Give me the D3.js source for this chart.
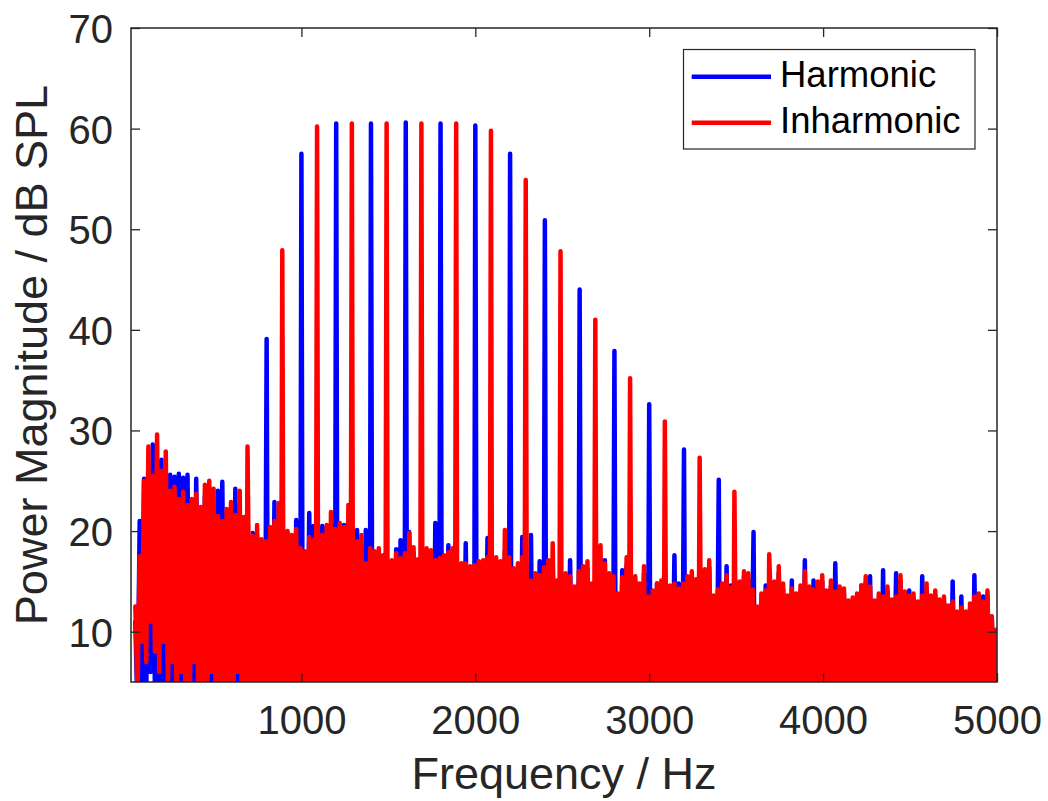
<!DOCTYPE html>
<html>
<head>
    <meta charset="utf-8">
    <title>Harmonic vs Inharmonic</title>
    <script src="https://d3js.org/d3.v7.min.js"></script>
    <style>
        body { margin: 0; background: #fff; }
        text { font-family: "Liberation Sans", Arial, Helvetica, sans-serif; }
    </style>
</head>
<body>
<script>
var width = 1048;
var height = 801;

var xTicks = [1000, 2000, 3000, 4000, 5000];
var yTicks = [10, 20, 30, 40, 50, 60, 70];

// harmonic components (Hz, dB SPL)
var harmonicFreqs  = [800, 1000, 1200, 1400, 1600, 1800, 2000, 2200, 2400, 2600, 2800, 3000, 3200, 3400, 3600];
var harmonicLevels = [39.1, 57.5, 60.5, 60.5, 60.6, 60.5, 60.3, 57.5, 50.9, 44.0, 37.9, 32.6, 28.1, 25.1, 19.9];

var inharmonicFreqs  = [690, 890, 1090, 1290, 1490, 1690, 1890, 2090, 2290, 2490, 2690, 2890, 3090, 3290, 3490, 3690];
var inharmonicLevels = [28.4, 47.9, 60.2, 60.5, 60.5, 60.5, 60.5, 59.8, 54.9, 47.8, 41.0, 35.2, 30.9, 27.3, 23.9, 17.7];

// noise floor, sampled every 25 Hz from 45 Hz (peaks) and half way between (dips)
var noiseStart = 45;
var noiseStep = 25;

var harmonicNoisePeaks = [
    11.0, 21.0, 25.2, 26.5, 28.6, 27.0, 27.1, 25.0, 25.6, 25.4,
    25.7, 25.3, 25.6, 23.0, 25.2, 22.0, 23.5, 22.8, 22.5, 24.0,
    24.9, 21.5, 22.0, 24.2, 22.5, 20.8, 19.0, 19.8, 19.6, 19.0,
    18.6, 20.0, 22.9, 21.0, 19.6, 19.8, 19.5, 21.1, 18.0, 17.8,
    21.8, 20.5, 18.4, 20.5, 20.3, 20.6, 20.5, 20.0, 20.6, 20.0,
    19.5, 20.1, 18.5, 20.1, 18.0, 17.2, 17.6, 17.0, 16.8, 16.5,
    18.2, 19.1, 18.9, 19.9, 17.8, 16.9, 17.0, 17.5, 17.4, 20.8,
    20.5, 17.2, 18.6, 17.2, 16.3, 16.4, 18.8, 16.0, 16.1, 16.5,
    16.6, 19.3, 16.2, 16.8, 16.5, 18.0, 16.8, 15.8, 16.2, 19.4,
    15.5, 19.6, 15.2, 17.0, 15.8, 16.5, 16.6, 14.6, 14.8, 15.2,
    17.1, 14.0, 15.4, 15.8, 16.2, 14.3, 14.6, 17.0, 17.1, 15.2,
    16.0, 13.3, 16.1, 16.6, 14.4, 15.0, 14.2, 15.8, 13.0, 14.0,
    14.8, 14.5, 14.4, 14.0, 17.6, 14.8, 14.2, 14.8, 15.4, 14.6,
    14.4, 15.6, 16.4, 13.0, 14.8, 14.2, 16.5, 14.6, 13.5, 14.4,
    15.4, 15.2, 13.6, 12.0, 13.2, 14.6, 14.6, 14.5, 15.8, 14.2,
    13.0, 15.1, 13.2, 14.0, 17.1, 14.0, 15.1, 14.4, 15.0, 13.6,
    14.5, 16.8, 14.0, 13.8, 12.6, 12.9, 13.2, 14.6, 14.9, 15.5,
    12.6, 13.2, 16.1, 14.0, 12.7, 15.8, 15.0, 13.5, 14.1, 13.3,
    12.5, 15.5, 14.2, 13.0, 13.6, 12.7, 13.0, 12.1, 15.0, 11.5,
    13.5, 11.5, 12.3, 15.6, 13.2, 13.5, 13.6, 11.5, 10.0
];
var harmonicNoiseDips = [
    2, 5, 3, 6, 4, 3, 2, 6, 5, 3, 1, 4, 2, 0, 6, 3, 1, 2, 5, 0,
    2, 3, 1, 0, 4, 2, 1, 3, 0, 2, 1, 4, 0, 2, 3, 1, 0, 2, 1, 3,
    0, 1, 3, 2, 0, 4, 1, 0, 2, 3, 1, 0, 2, 1, 4, 0, 3, 1, 0, 2,
    1, 3, 0, 1, 2, 0, 4, 2, 1, 0, 3, 1, 2, 0, 1, 3, 0, 2, 4, 1,
    0, 2, 1, 3, 0, 1, 2, 4, 0, 1, 3, 0, 2, 1, 0, 4, 1, 2, 0, 3,
    2, 0, 4, 1, 0, 3, 2, 1, 0, 2, 1, 3, 0, 4, 1, 0, 2, 3, 1, 0,
    1, 2, 0, 3, 1, 0, 2, 1, 4, 0, 1, 3, 2, 0, 1, 4, 0, 2, 1, 3,
    3, 0, 1, 2, 4, 0, 1, 0, 3, 2, 0, 1, 4, 1, 0, 2, 3, 0, 1, 2,
    0, 4, 2, 0, 1, 3, 0, 2, 1, 0, 3, 1, 0, 2, 4, 1, 0, 3, 2, 0,
    1, 3, 0, 2, 1, 0, 4, 1, 3, 0, 2, 1, 0, 3, 1, 2, 0, 4, 1
];

var inharmonicNoisePeaks = [
    12.5, 17.5, 25.0, 28.4, 25.5, 29.6, 26.0, 27.9, 24.0, 24.4,
    23.2, 23.9, 22.6, 23.2, 23.7, 22.4, 24.6, 25.0, 24.2, 21.5,
    21.0, 22.2, 22.9, 21.6, 24.0, 21.4, 20.0, 19.5, 20.6, 19.2,
    19.0, 20.4, 21.0, 22.8, 20.5, 20.0, 19.6, 20.2, 18.3, 18.0,
    19.4, 19.1, 18.6, 19.6, 20.6, 21.9, 20.2, 20.8, 20.4, 22.6,
    20.1, 19.0, 19.6, 16.8, 18.3, 18.0, 18.3, 17.6, 17.0, 17.1,
    17.8, 17.3, 17.8, 19.8, 18.4, 17.2, 17.6, 18.3, 18.1, 17.1,
    17.3, 17.6, 17.9, 18.3, 16.9, 16.8, 16.8, 16.5, 16.6, 17.0,
    17.1, 17.4, 16.8, 17.4, 17.0, 20.1, 17.4, 16.3, 16.8, 17.4,
    16.0, 15.1, 15.8, 15.6, 16.4, 17.1, 18.8, 15.1, 15.4, 15.8,
    15.5, 14.5, 16.0, 16.5, 17.0, 14.8, 15.2, 18.6, 16.8, 15.8,
    15.5, 13.8, 15.4, 17.4, 15.0, 15.5, 14.8, 16.5, 13.5, 14.1,
    14.8, 15.1, 15.0, 14.6, 14.8, 14.3, 14.8, 15.5, 16.0, 15.2,
    15.0, 16.2, 17.1, 13.6, 14.2, 14.8, 15.6, 14.4, 14.0, 15.0,
    16.0, 15.8, 14.2, 12.5, 13.8, 14.1, 15.0, 15.0, 16.5, 14.8,
    13.6, 14.3, 13.8, 14.6, 16.0, 14.5, 14.2, 15.0, 15.6, 14.1,
    15.1, 14.0, 14.5, 14.3, 13.1, 13.4, 13.8, 14.6, 15.5, 14.5,
    13.1, 13.8, 13.5, 14.5, 13.2, 13.5, 15.6, 14.0, 13.6, 13.8,
    13.0, 13.6, 14.8, 13.6, 14.1, 13.2, 13.5, 12.6, 13.0, 12.0,
    12.4, 12.0, 12.8, 13.5, 13.8, 13.0, 14.1, 11.5, 10.2
];
var inharmonicNoiseDips = [
    4, 9, 7, 11, 8, 6, 9, 4, 7, 2, 6, 3, 1, 7, 2, 4, 0, 6, 2, 3,
    1, 4, 0, 6, 2, 1, 3, 0, 2, 4, 1, 0, 3, 1, 2, 0, 4, 1, 0, 2,
    3, 1, 0, 2, 1, 4, 0, 1, 3, 0, 2, 1, 0, 3, 1, 2, 0, 1, 4, 0,
    2, 0, 1, 3, 0, 2, 1, 0, 2, 4, 1, 0, 3, 0, 1, 2, 0, 3, 1, 0,
    1, 3, 0, 2, 1, 0, 4, 1, 0, 2, 3, 0, 1, 2, 0, 1, 3, 0, 2, 1,
    0, 2, 1, 4, 0, 1, 2, 0, 3, 1, 0, 2, 1, 0, 3, 2, 0, 1, 2, 0,
    3, 1, 0, 2, 1, 4, 0, 2, 1, 0, 3, 1, 0, 2, 4, 0, 1, 2, 0, 3,
    1, 0, 2, 3, 0, 1, 2, 0, 4, 1, 0, 2, 1, 3, 0, 1, 2, 0, 3, 1,
    0, 2, 4, 1, 0, 3, 1, 0, 2, 1, 4, 0, 1, 2, 0, 3, 1, 0, 2, 1,
    2, 0, 1, 3, 0, 2, 1, 4, 0, 1, 2, 0, 3, 1, 0, 2, 4, 1, 0
];

function spectrum(peaks, dips, freqs, levels) {
    var pts = [];
    peaks.forEach(function(v, i) { pts.push([noiseStart + i * noiseStep, v]); });
    dips.forEach(function(v, i) { pts.push([noiseStart + noiseStep / 2 + i * noiseStep, v]); });
    freqs.forEach(function(f, i) { pts.push([f, levels[i]]); });
    pts.sort(function(a, b) { return a[0] - b[0]; });
    return pts;
}

var x = d3.scaleLinear().domain([20, 5000]).range([131, 997]);
var y = d3.scaleLinear().domain([5, 70]).range([682, 28]);
var ink = "#262626";

var svg = d3.select("body").append("svg")
    .attr("width", width)
    .attr("height", height);

svg.append("rect").attr("width", width).attr("height", height).attr("fill", "#fff");

svg.append("clipPath").attr("id", "plot")
    .append("rect")
    .attr("x", x.range()[0]).attr("y", y.range()[1])
    .attr("width", x.range()[1] - x.range()[0])
    .attr("height", y.range()[0] - y.range()[1]);

var line = d3.line()
    .x(function(d) { return x(d[0]); })
    .y(function(d) { return y(d[1]); });

var plot = svg.append("g").attr("clip-path", "url(#plot)");

var series = [
    { name: "Harmonic", color: "#0000ff",
      data: spectrum(harmonicNoisePeaks, harmonicNoiseDips, harmonicFreqs, harmonicLevels) },
    { name: "Inharmonic", color: "#ff0000",
      data: spectrum(inharmonicNoisePeaks, inharmonicNoiseDips, inharmonicFreqs, inharmonicLevels) }
];

series.forEach(function(s) {
    plot.append("path")
        .datum(s.data)
        .attr("d", line)
        .attr("fill", "none")
        .attr("stroke", s.color)
        .attr("stroke-width", 4.5)
        .attr("stroke-linejoin", "round")
        .attr("stroke-linecap", "round");
});

// axes, ticks pointing inwards
function styleAxis(g) {
    g.select(".domain").remove();
    g.attr("font-family", null).attr("font-size", null);
    g.selectAll(".tick line").attr("stroke", ink).attr("stroke-width", 1.3);
}

var xAxis = svg.append("g")
    .attr("transform", "translate(0," + y.range()[0] + ")")
    .call(d3.axisBottom(x).tickValues(xTicks).tickFormat(d3.format("d"))
        .tickSizeInner(-9).tickSizeOuter(0));
styleAxis(xAxis);
xAxis.selectAll(".tick text")
    .attr("y", 52).attr("dy", null)
    .attr("fill", ink)
    .style("font-size", "40px");

var xTop = svg.append("g")
    .attr("transform", "translate(0," + y.range()[1] + ")")
    .call(d3.axisTop(x).tickValues(xTicks).tickSizeInner(-9).tickSizeOuter(0).tickFormat(""));
styleAxis(xTop);

var yAxis = svg.append("g")
    .attr("transform", "translate(" + x.range()[0] + ",0)")
    .call(d3.axisLeft(y).tickValues(yTicks).tickFormat(d3.format("d"))
        .tickSizeInner(-9).tickSizeOuter(0));
styleAxis(yAxis);
yAxis.selectAll(".tick text")
    .attr("x", -18).attr("dy", "0.36em")
    .attr("fill", ink)
    .style("font-size", "40px");

var yRight = svg.append("g")
    .attr("transform", "translate(" + x.range()[1] + ",0)")
    .call(d3.axisRight(y).tickValues(yTicks).tickSizeInner(-9).tickSizeOuter(0).tickFormat(""));
styleAxis(yRight);

svg.append("rect")
    .attr("x", x.range()[0]).attr("y", y.range()[1])
    .attr("width", x.range()[1] - x.range()[0])
    .attr("height", y.range()[0] - y.range()[1])
    .attr("fill", "none")
    .attr("stroke", ink)
    .attr("stroke-width", 1.5);

// axis titles
svg.append("text")
    .attr("x", (x.range()[0] + x.range()[1]) / 2)
    .attr("y", 789)
    .attr("text-anchor", "middle")
    .attr("fill", ink)
    .style("font-size", "45px")
    .text("Frequency / Hz");

svg.append("text")
    .attr("transform", "translate(47," + (y.range()[0] + y.range()[1]) / 2 + ") rotate(-90)")
    .attr("text-anchor", "middle")
    .attr("fill", ink)
    .style("font-size", "45px")
    .text("Power Magnitude / dB SPL");

// legend
var legend = svg.append("g");
legend.append("rect")
    .attr("x", 683.5).attr("y", 49.5)
    .attr("width", 291.5).attr("height", 99.5)
    .attr("fill", "#fff")
    .attr("stroke", ink)
    .attr("stroke-width", 1.2);

series.forEach(function(s, i) {
    var ly = 76.7 + i * 46;
    legend.append("line")
        .attr("x1", 691.7).attr("x2", 771)
        .attr("y1", ly).attr("y2", ly)
        .attr("stroke", s.color)
        .attr("stroke-width", 4.5);
    legend.append("text")
        .attr("x", 780).attr("y", ly + 10.5)
        .attr("fill", "#000")
        .style("font-size", "36.5px")
        .text(s.name);
});
</script>
</body>
</html>
